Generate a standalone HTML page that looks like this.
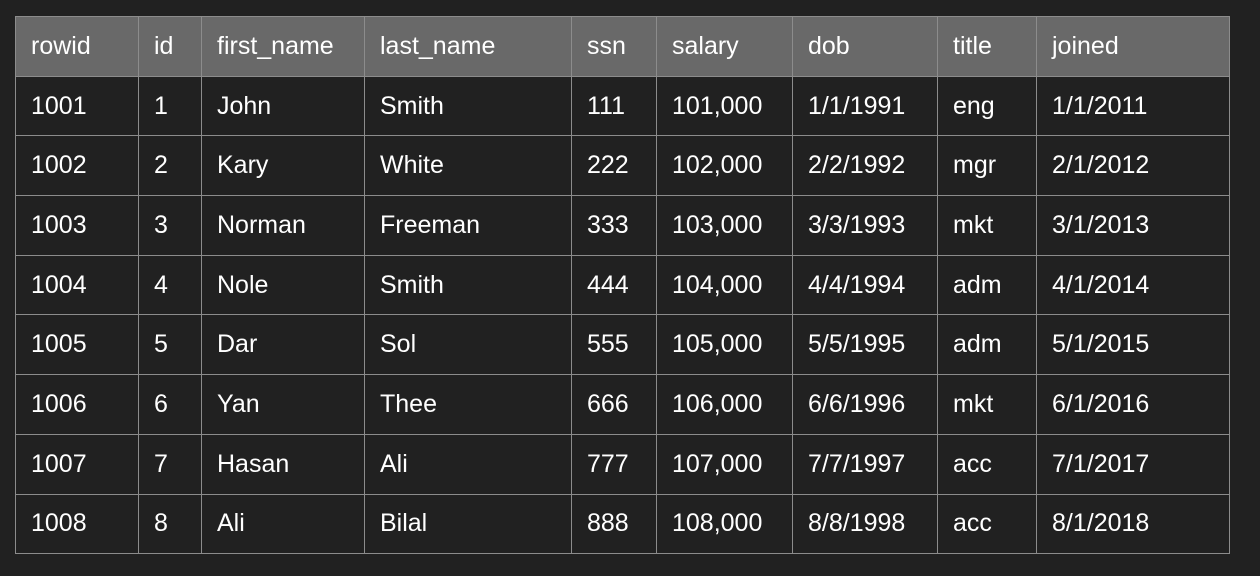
<!DOCTYPE html>
<html><head><meta charset="utf-8"><style>
html,body{margin:0;padding:0;background:#212121;width:1260px;height:576px;overflow:hidden}
table{position:absolute;left:15px;top:16px;border-collapse:collapse;table-layout:fixed;font-family:"Liberation Sans",Arial,sans-serif;font-size:25px;color:#fff}
tr{height:59.7px}
td,th{border:1px solid #8c8c8c;height:59.7px;padding:0 0 0 15px;text-align:left;font-weight:normal;white-space:nowrap;box-sizing:border-box}
th{background:#696969}
td{background:#212121}
</style></head><body>
<table>
<colgroup><col style="width:123px"><col style="width:63px"><col style="width:163px"><col style="width:207px"><col style="width:85px"><col style="width:136px"><col style="width:145px"><col style="width:99px"><col style="width:193px"></colgroup>
<tr><th>rowid</th><th>id</th><th>first_name</th><th>last_name</th><th>ssn</th><th>salary</th><th>dob</th><th>title</th><th>joined</th></tr>
<tr><td>1001</td><td>1</td><td>John</td><td>Smith</td><td>111</td><td>101,000</td><td>1/1/1991</td><td>eng</td><td>1/1/2011</td></tr>
<tr><td>1002</td><td>2</td><td>Kary</td><td>White</td><td>222</td><td>102,000</td><td>2/2/1992</td><td>mgr</td><td>2/1/2012</td></tr>
<tr><td>1003</td><td>3</td><td>Norman</td><td>Freeman</td><td>333</td><td>103,000</td><td>3/3/1993</td><td>mkt</td><td>3/1/2013</td></tr>
<tr><td>1004</td><td>4</td><td>Nole</td><td>Smith</td><td>444</td><td>104,000</td><td>4/4/1994</td><td>adm</td><td>4/1/2014</td></tr>
<tr><td>1005</td><td>5</td><td>Dar</td><td>Sol</td><td>555</td><td>105,000</td><td>5/5/1995</td><td>adm</td><td>5/1/2015</td></tr>
<tr><td>1006</td><td>6</td><td>Yan</td><td>Thee</td><td>666</td><td>106,000</td><td>6/6/1996</td><td>mkt</td><td>6/1/2016</td></tr>
<tr><td>1007</td><td>7</td><td>Hasan</td><td>Ali</td><td>777</td><td>107,000</td><td>7/7/1997</td><td>acc</td><td>7/1/2017</td></tr>
<tr><td>1008</td><td>8</td><td>Ali</td><td>Bilal</td><td>888</td><td>108,000</td><td>8/8/1998</td><td>acc</td><td>8/1/2018</td></tr>
</table>
</body></html>
